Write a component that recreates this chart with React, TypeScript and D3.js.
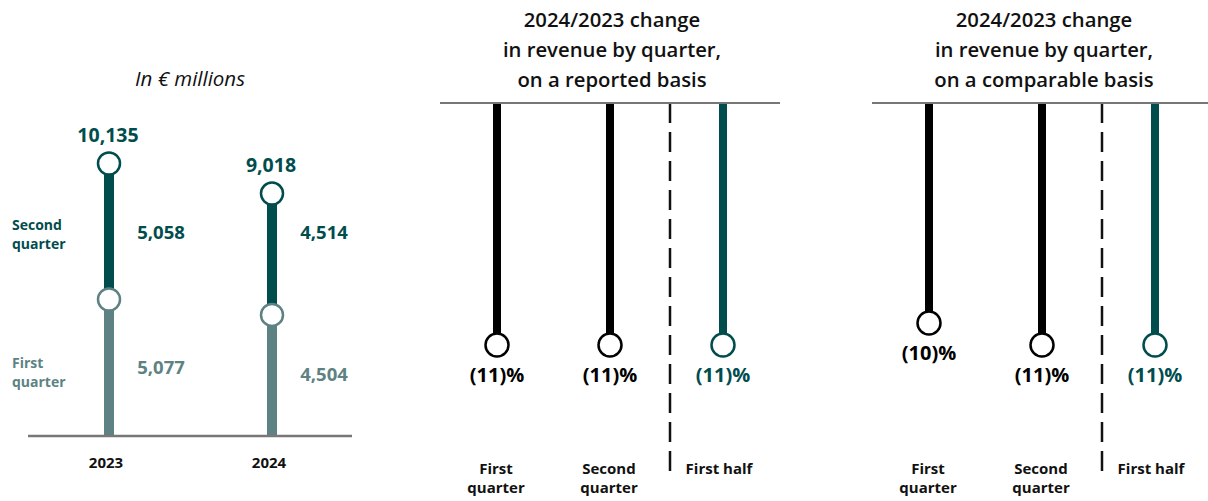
import React from "react";
import * as d3 from "d3";

// ---------- Data ----------
const years = ["2023", "2024"];
const firstQuarter = [5077, 4504];
const secondQuarter = [5058, 4514];

const changeCategories = ["First quarter", "Second quarter", "First half"];
const reportedChange = [-11, -11, -11];
const comparableChange = [-10, -11, -11];

const panelTitleReported = ["2024/2023 change", "in revenue by quarter,", "on a reported basis"];
const panelTitleComparable = ["2024/2023 change", "in revenue by quarter,", "on a comparable basis"];

// ---------- Style ----------
const DARK = "#014d4e";
const LIGHT = "#5e8283";
const AXIS = "#777777";
const FONT = "'Source Sans Pro', 'Open Sans', 'Noto Sans', sans-serif";

const fmt = d3.format(",");
const pct = (v: number) => `(${Math.abs(v)})%`;

function RevenuePanel() {
  const totals = firstQuarter.map((v, i) => v + secondQuarter[i]);
  const x = d3.scalePoint<string>().domain(years).range([109, 272]);
  const y = d3.scaleLinear().domain([0, d3.max(totals) as number]).range([436, 163.5]);
  const q2LabelY = y((firstQuarter[0] + totals[0]) / 2) + 8;
  return (
    <g>
      <text x={190} y={86} textAnchor="middle" fontStyle="italic" fontSize={20.5} fill="#111" fontFamily={FONT}>
        In € millions
      </text>
      {/* series labels */}
      <text x={12} y={q2LabelY - 9} fontSize={14} fontWeight={700} fill={DARK} fontFamily={FONT}>
        <tspan x={12}>Second</tspan>
        <tspan x={12} dy={19}>quarter</tspan>
      </text>
      <text x={12} y={y(firstQuarter[0] / 2)} fontSize={14} fontWeight={700} fill={LIGHT} fontFamily={FONT}>
        <tspan x={12}>First</tspan>
        <tspan x={12} dy={19}>quarter</tspan>
      </text>
      {years.map((yr, i) => {
        const cx = x(yr) as number;
        return (
          <g key={yr}>
            <line x1={cx} x2={cx} y1={y(0)} y2={y(firstQuarter[i])} stroke={LIGHT} strokeWidth={10} />
            <line x1={cx} x2={cx} y1={y(firstQuarter[i])} y2={y(totals[i])} stroke={DARK} strokeWidth={10} />
            <circle cx={cx} cy={y(firstQuarter[i])} r={11} fill="#fff" stroke={LIGHT} strokeWidth={2.5} />
            <circle cx={cx} cy={y(totals[i])} r={11} fill="#fff" stroke={DARK} strokeWidth={2.5} />
            <text x={cx - 1} y={y(totals[i]) - 22} textAnchor="middle" fontSize={19.5} fontWeight={700} fill={DARK} fontFamily={FONT}>
              {fmt(totals[i])}
            </text>
            <text x={cx + 52} y={q2LabelY} textAnchor="middle" fontSize={18.5} fontWeight={700} fill={DARK} fontFamily={FONT}>
              {fmt(secondQuarter[i])}
            </text>
            <text x={cx + 52} y={(y(0) + y(firstQuarter[i])) / 2 + 6} textAnchor="middle" fontSize={18.5} fontWeight={700} fill={LIGHT} fontFamily={FONT}>
              {fmt(firstQuarter[i])}
            </text>
            <text x={cx - 3} y={468} textAnchor="middle" fontSize={15} fontWeight={700} fill="#111" fontFamily={FONT}>
              {yr}
            </text>
          </g>
        );
      })}
      <line x1={28} x2={352} y1={y(0)} y2={y(0)} stroke={AXIS} strokeWidth={2.5} />
    </g>
  );
}

function ChangePanel({ title, values, left }: { title: string[]; values: number[]; left: number }) {
  const x = d3.scalePoint<string>().domain(changeCategories).range([left + 57, left + 283]);
  const y = d3.scaleLinear().domain([0, -11]).range([103, 345]);
  const center = left + 172;
  const divider = ((x(changeCategories[1]) as number) + (x(changeCategories[2]) as number)) / 2 + 3.5;
  return (
    <g>
      {title.map((t, i) => (
        <text key={i} x={center} y={27 + i * 30} textAnchor="middle" fontSize={20.3} fontWeight={600} fill="#111" fontFamily={FONT}>
          {t}
        </text>
      ))}
      <line x1={divider} x2={divider} y1={103} y2={477} stroke="#111" strokeWidth={2.5} strokeDasharray="20 9" />
      {changeCategories.map((c, i) => {
        const cx = x(c) as number;
        const col = i === 2 ? DARK : "#000";
        const cy = y(values[i]);
        const words = c.split(" ");
        return (
          <g key={c}>
            <line x1={cx} x2={cx} y1={y(0)} y2={cy} stroke={col} strokeWidth={8} />
            <circle cx={cx} cy={cy} r={11.5} fill="#fff" stroke={col} strokeWidth={2.5} />
            <text x={cx} y={cy + 37} textAnchor="middle" fontSize={20} fontWeight={700} fill={col} fontFamily={FONT}>
              {pct(values[i])}
            </text>
            {i === 2 ? (
              <text x={cx - 4} y={474} textAnchor="middle" fontSize={15} fontWeight={700} fill="#111" fontFamily={FONT}>
                {c}
              </text>
            ) : (
              <text x={cx - 1} y={474} textAnchor="middle" fontSize={15} fontWeight={700} fill="#111" fontFamily={FONT}>
                <tspan x={cx - 1}>{words[0]}</tspan>
                <tspan x={cx - 1} dy={19}>{words[1]}</tspan>
              </text>
            )}
          </g>
        );
      })}
      <line x1={left} x2={left + 340} y1={y(0)} y2={y(0)} stroke={AXIS} strokeWidth={2} />
    </g>
  );
}

export default function App() {
  return (
    <svg width={1208} height={501} style={{ position: "absolute", left: 0, top: 0, background: "#fff" }}>
      <rect width={1208} height={501} fill="#fff" />
      <RevenuePanel />
      <ChangePanel title={panelTitleReported} values={reportedChange} left={440} />
      <ChangePanel title={panelTitleComparable} values={comparableChange} left={872} />
    </svg>
  );
}
